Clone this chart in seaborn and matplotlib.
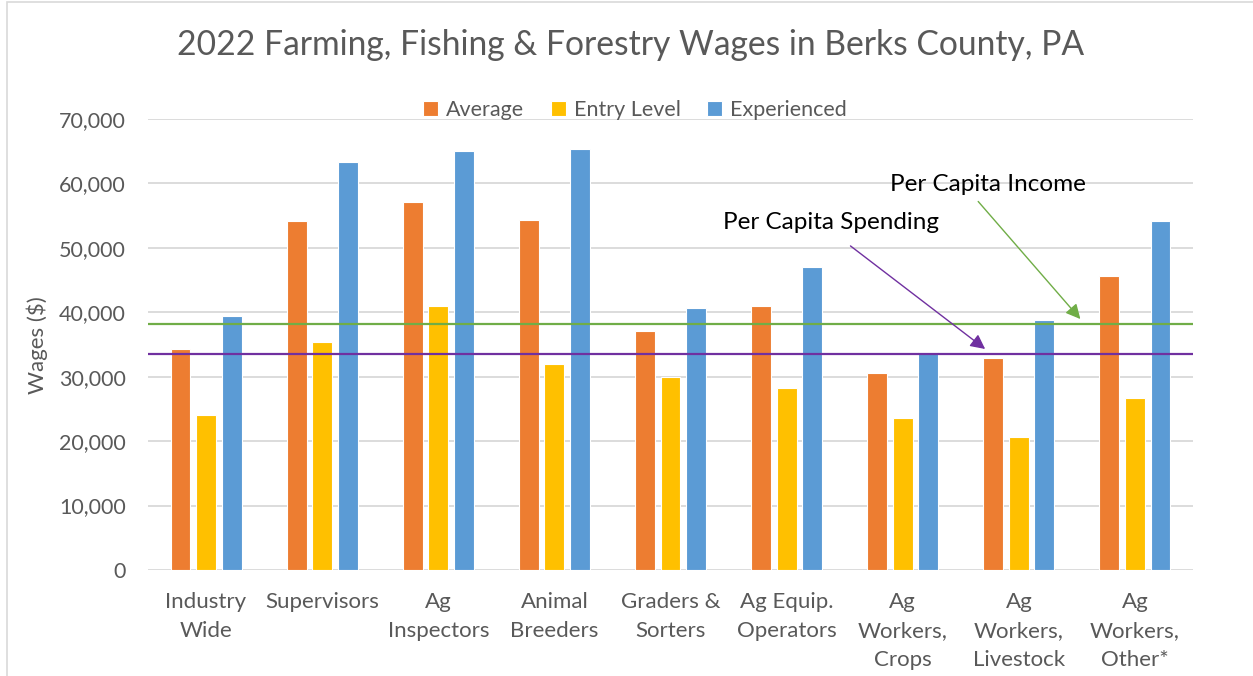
import matplotlib
matplotlib.use("Agg")
import matplotlib.pyplot as plt
from matplotlib.patches import Rectangle
import seaborn as sns
import pandas as pd

# Data
occupations = ["Industry\nWide", "Supervisors", "Ag\nInspectors", "Animal\nBreeders",
               "Graders &\nSorters", "Ag Equip.\nOperators", "Ag\nWorkers,\nCrops",
               "Ag\nWorkers,\nLivestock", "Ag\nWorkers,\nOther*"]
average = [34300, 54200, 57100, 54400, 37100, 40900, 30500, 32900, 45600]
entry_level = [24100, 35400, 41000, 32000, 30000, 28300, 23600, 20600, 26700]
experienced = [39400, 63400, 65000, 65400, 40700, 47000, 33800, 38800, 54100]
per_capita_income = 38200
per_capita_spending = 33600

levels = ["Average", "Entry Level", "Experienced"]
colors = ["#ED7D31", "#FFC000", "#5B9BD5"]

df = pd.DataFrame({
    "Occupation": occupations * 3,
    "Wages": average + entry_level + experienced,
    "Level": [lv for lv in levels for _ in occupations],
})

sns.set_style("white")
plt.rcParams["font.family"] = ["Lato", "DejaVu Sans"]
text_gray = "#595959"
grid_gray = "#D9D9D9"

fig = plt.figure(figsize=(12.53, 6.76), dpi=100)
ax = fig.add_axes([148 / 1253, 1 - 570 / 676, 1045 / 1253, 451 / 676])

sns.barplot(data=df, x="Occupation", y="Wages", hue="Level", palette=colors,
            saturation=1, width=0.66, gap=0.22, edgecolor="white", linewidth=0.8,
            ax=ax, zorder=2)

ax.set_ylim(0, 70000)
ax.set_yticks(range(0, 70001, 10000))
ax.set_yticklabels([f"{v:,}" for v in range(0, 70001, 10000)])
ax.yaxis.grid(True, color=grid_gray, linewidth=1.3)
ax.set_axisbelow(True)
for s in ax.spines.values():
    s.set_visible(False)
ax.tick_params(axis="both", length=0, labelcolor=text_gray)
ax.tick_params(axis="y", pad=16, labelsize=15.5)
ax.tick_params(axis="x", pad=16, labelsize=16)
for lab in ax.get_xticklabels():
    lab.set_linespacing(1.56)
ax.set_xlabel("")
ax.set_ylabel("")

# reference lines
ax.axhline(per_capita_income, color="#70AD47", linewidth=1.6, zorder=3)
ax.axhline(per_capita_spending, color="#7030A0", linewidth=1.6, zorder=3)

ax.text(6.73, 59900, "Per Capita Income", fontsize=17.5, color="black",
        ha="center", va="center")
ax.annotate("", xy=(7.53, 38950), xytext=(6.65, 57200),
            arrowprops=dict(arrowstyle="-|>", color="#70AD47", lw=1,
                            mutation_scale=22, shrinkA=0, shrinkB=0))
ax.text(5.38, 53860, "Per Capita Spending", fontsize=17.5, color="black",
        ha="center", va="center")
ax.annotate("", xy=(6.71, 34300), xytext=(5.55, 50300),
            arrowprops=dict(arrowstyle="-|>", color="#7030A0", lw=1,
                            mutation_scale=22, shrinkA=0, shrinkB=0))

leg = ax.legend(loc="center", bbox_to_anchor=(0.466, 1.02), ncol=3, frameon=False,
                fontsize=15.5, handlelength=0.7, handleheight=0.7,
                handletextpad=0.35, columnspacing=1.25)
for t in leg.get_texts():
    t.set_color(text_gray)

fig.text(631 / 1253, 1 - 45 / 676, "2022 Farming, Fishing & Forestry Wages in Berks County, PA",
         ha="center", va="center", fontsize=24.2, color=text_gray)
fig.text(37 / 1253, 1 - 345 / 676, "Wages ($)", rotation=90, ha="center", va="center",
         fontsize=16, color=text_gray)

fig.add_artist(Rectangle((6.5 / 1253, -0.1), 1.5, 1.1 - 2.5 / 676, transform=fig.transFigure,
                         fill=False, edgecolor=grid_gray, linewidth=1.2))

fig.savefig("out.png", dpi=100)
